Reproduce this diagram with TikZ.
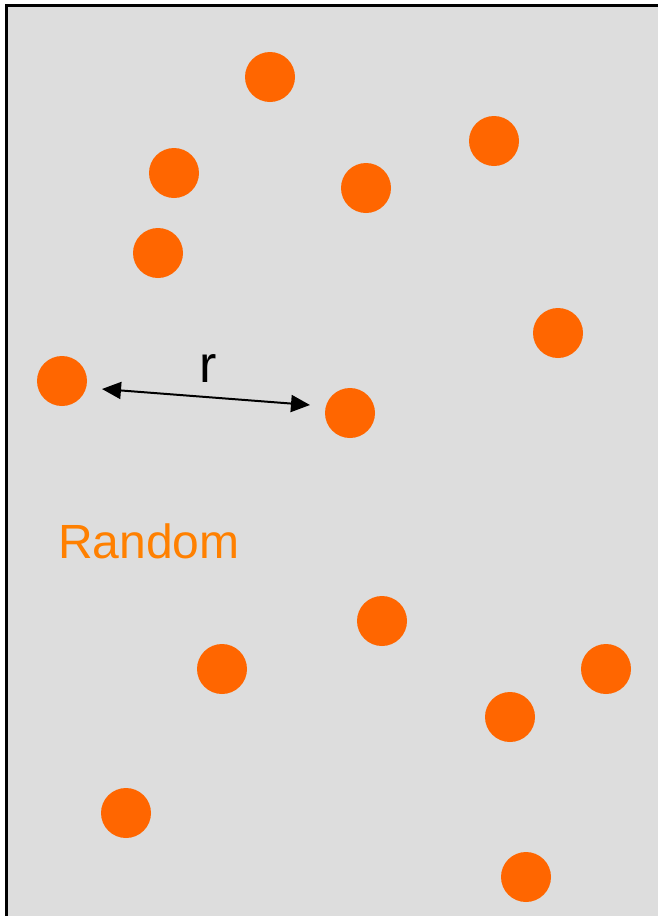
\documentclass[tikz,border=0pt]{standalone}
\usepackage{fontspec}
\setmainfont{Liberation Sans}
\usetikzlibrary{arrows.meta}
\definecolor{bg}{HTML}{DDDDDD}
\definecolor{dot}{HTML}{FF6600}
\definecolor{txt}{HTML}{FF8000}
\tikzset{pt/.style={circle,fill=dot,minimum size=50pt,inner sep=0pt}}
\begin{document}
\begin{tikzpicture}[x=1pt,y=-1pt]
\useasboundingbox (0,0) rectangle (658,916);
\clip (0,0) rectangle (658,916);
\draw[fill=bg,line width=3pt] (6,5) rectangle (666,925);
\node[pt] (p1) at (270,77) {};
\node[pt] (p2) at (494,141) {};
\node[pt] (p3) at (174,173) {};
\node[pt] (p4) at (366,188) {};
\node[pt] (p5) at (158,253) {};
\node[pt] (p6) at (558,333) {};
\node[pt] (a) at (62,381) {};
\node[pt] (b) at (350,413) {};
\node[pt] (p9) at (382,621) {};
\node[pt] (p10) at (222,669) {};
\node[pt] (p11) at (606,669) {};
\node[pt] (p12) at (510,717) {};
\node[pt] (p13) at (126,813) {};
\node[pt] (p14) at (526,877) {};
\coordinate (s) at (102,389);
\coordinate (e) at (310,405);
\draw[line width=2pt,{Triangle[length=19pt,width=17pt]}-{Triangle[length=19pt,width=17pt]}] (s) -- (e);
\node[font=\fontsize{52}{60}\selectfont,inner sep=0pt,anchor=base] (r) at (208,382) {r};
\node[font=\fontsize{48}{58}\selectfont,text=txt,inner sep=0pt,anchor=base west] (rand) at (58,558) {Random};
\end{tikzpicture}
\end{document}
